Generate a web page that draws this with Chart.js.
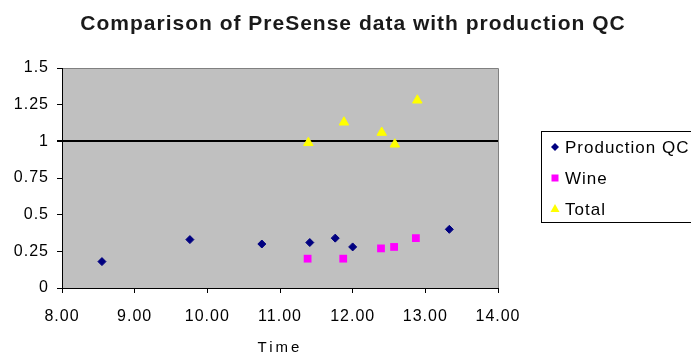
<!DOCTYPE html>
<html>
<head>
<meta charset="utf-8">
<title>Comparison of PreSense data with production QC</title>
<script src="https://cdn.jsdelivr.net/npm/chart.js@4"></script>
<style>
    html, body { margin: 0; padding: 0; background: #fff; }
    #wrap { position: relative; width: 691px; height: 359px; }
</style>
</head>
<body>
<div id="wrap"><canvas id="qcChart"></canvas></div>
<script>
// Data (time of day vs. value)
const prodTime  = [8.55, 9.76, 10.75, 11.41, 11.76, 12.00, 13.33];
const prodValue = [0.18, 0.33, 0.30, 0.31, 0.34, 0.28, 0.40];
const wineTime  = [11.38, 11.87, 12.39, 12.57, 12.87];
const wineValue = [0.20, 0.20, 0.27, 0.28, 0.34];
const totalTime  = [11.39, 11.88, 12.40, 12.58, 12.89];
const totalValue = [0.99, 1.13, 1.06, 0.98, 1.28];

const seriesNames = ['Production QC', 'Wine', 'Total'];
const xTickLabels = ['8.00', '9.00', '10.00', '11.00', '12.00', '13.00', '14.00'];
const yTickLabels = ['0', '0.25', '0.5', '0.75', '1', '1.25', '1.5'];

const FONT = "Arial, 'Liberation Sans', sans-serif";

function toPoints(xs, ys) {
    return xs.map((x, i) => ({ x: x, y: ys[i] }));
}

// grey plot area, grey top/right frame, title and boxed legend
const excelLook = {
    id: 'excelLook',
    afterInit(chart) {
        // Excel spreads its letters a little; mimic that for library text
        const ctx = chart.ctx;
        const fill = ctx.fillText;
        ctx.fillText = function (text, x, y, maxWidth) {
            const before = this.letterSpacing;
            this.letterSpacing = text === 'Time' ? '3px' : '1px';
            fill.call(this, text, x, y, maxWidth);
            this.letterSpacing = before;
        };
    },
    beforeDraw(chart) {
        const { ctx, chartArea: a } = chart;
        ctx.save();
        ctx.fillStyle = '#C0C0C0';
        ctx.fillRect(a.left, a.top, a.right - a.left, a.bottom - a.top);
        ctx.strokeStyle = '#808080';
        ctx.lineWidth = 1;
        ctx.beginPath();
        ctx.moveTo(a.left, a.top + 0.5);
        ctx.lineTo(a.right + 0.5, a.top + 0.5);
        ctx.lineTo(a.right + 0.5, a.bottom);
        ctx.stroke();
        ctx.restore();
    },
    afterDraw(chart) {
        const ctx = chart.ctx;
        ctx.save();
        // title
        ctx.fillStyle = '#1a1a1a';
        ctx.font = 'bold 21px ' + FONT;
        ctx.letterSpacing = '1px';
        ctx.textAlign = 'center';
        ctx.textBaseline = 'alphabetic';
        ctx.fillText('Comparison of PreSense data with production QC', 353, 30);

        // legend box
        ctx.letterSpacing = '0px';
        ctx.strokeStyle = '#000';
        ctx.lineWidth = 1;
        ctx.strokeRect(541.5, 131.5, 200, 91);

        const rowY = [147, 178, 209];
        chart.data.datasets.forEach((ds, i) => {
            const cx = 555, cy = rowY[i];
            ctx.fillStyle = ds.backgroundColor;
            ctx.beginPath();
            if (ds.pointStyle === 'rectRot') {
                ctx.moveTo(cx - 4, cy);
                ctx.lineTo(cx, cy - 4);
                ctx.lineTo(cx + 4, cy);
                ctx.lineTo(cx, cy + 4);
            } else if (ds.pointStyle === 'rect') {
                ctx.rect(cx - 3.5, cy - 3.5, 7, 7);
            } else {
                ctx.moveTo(cx, cy - 5);
                ctx.lineTo(cx + 4.5, cy + 3);
                ctx.lineTo(cx - 4.5, cy + 3);
            }
            ctx.closePath();
            ctx.fill();

            ctx.fillStyle = '#000';
            ctx.font = '17px ' + FONT;
            ctx.letterSpacing = '1px';
            ctx.textAlign = 'left';
            ctx.textBaseline = 'alphabetic';
            ctx.fillText(ds.label, 565, cy + 6);
            ctx.letterSpacing = '0px';
        });
        ctx.restore();
    }
};

let qcChart;

function initializeQcChart() {
    const ctx = document.getElementById('qcChart').getContext('2d');

    Chart.defaults.font.family = FONT;
    Chart.defaults.font.size = 16;
    Chart.defaults.color = '#000';

    qcChart = new Chart(ctx, {
        type: 'scatter',
        data: {
            datasets: [
                {
                    label: seriesNames[0],
                    data: toPoints(prodTime, prodValue),
                    pointStyle: 'rectRot',
                    radius: 4,
                    backgroundColor: '#000080',
                    borderColor: '#000080',
                    borderWidth: 1
                },
                {
                    label: seriesNames[1],
                    data: toPoints(wineTime, wineValue),
                    pointStyle: 'rect',
                    radius: 5.5,
                    backgroundColor: '#FF00FF',
                    borderColor: '#FF00FF',
                    borderWidth: 0
                },
                {
                    label: seriesNames[2],
                    data: toPoints(totalTime, totalValue),
                    pointStyle: 'triangle',
                    radius: 5.5,
                    backgroundColor: '#FFFF00',
                    borderColor: '#FFFF00',
                    borderWidth: 1
                }
            ]
        },
        options: {
            responsive: true,
            maintainAspectRatio: false,
            animation: false,
            layout: {
                padding: { top: 68, right: 193, bottom: 0, left: 0 }
            },
            plugins: {
                legend: { display: false },
                title: { display: false },
                tooltip: { enabled: false }
            },
            scales: {
                x: {
                    type: 'linear',
                    min: 8,
                    max: 14,
                    afterFit: (scale) => { scale.height = 71; },
                    border: { color: '#000', width: 1 },
                    grid: {
                        drawOnChartArea: false,
                        tickColor: '#000',
                        tickLength: 5
                    },
                    ticks: {
                        stepSize: 1,
                        autoSkip: false,
                        maxRotation: 0,
                        padding: 14,
                        color: '#000',
                        font: { size: 16 },
                        callback: (v, i) => xTickLabels[i]
                    },
                    title: {
                        display: true,
                        text: 'Time',
                        color: '#000',
                        font: { size: 15 },
                        padding: { top: 0, bottom: 2 }
                    }
                },
                y: {
                    min: 0,
                    max: 1.5,
                    afterFit: (scale) => { scale.width = 62; },
                    border: { color: '#000', width: 1 },
                    grid: {
                        color: (c) => (c.tick && c.tick.value === 1 ? '#000' : 'rgba(0,0,0,0)'),
                        lineWidth: (c) => (c.tick && c.tick.value === 1 ? 2 : 1),
                        tickColor: '#000',
                        tickLength: 5
                    },
                    ticks: {
                        stepSize: 0.25,
                        autoSkip: false,
                        padding: 8,
                        color: '#000',
                        font: { size: 16 },
                        callback: (v, i) => yTickLabels[i]
                    }
                }
            }
        },
        plugins: [excelLook]
    });
}

document.addEventListener('DOMContentLoaded', function() {
    initializeQcChart();
});
</script>
</body>
</html>
